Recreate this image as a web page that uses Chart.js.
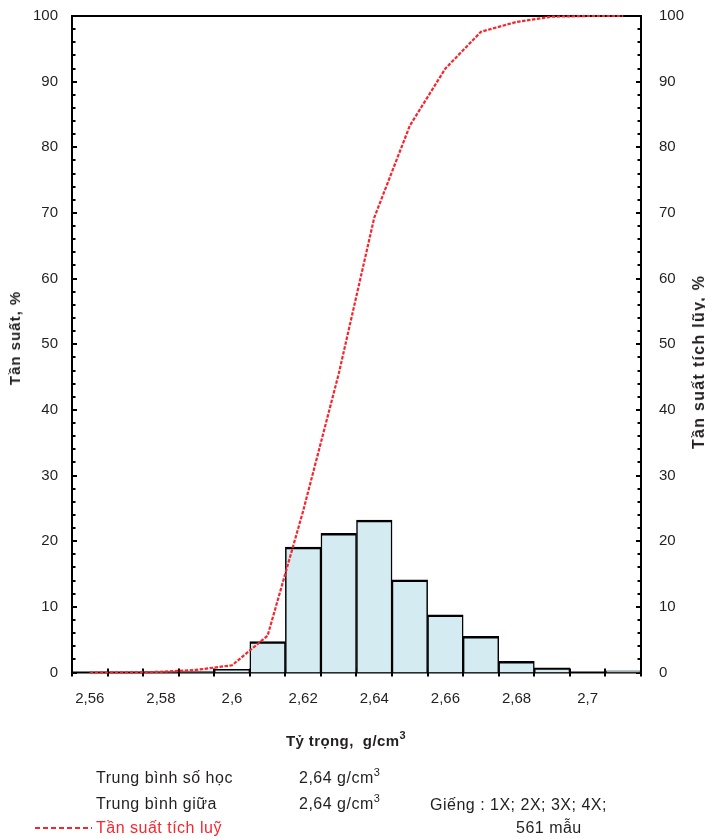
<!DOCTYPE html>
<html><head><meta charset="utf-8">
<script src="https://cdn.jsdelivr.net/npm/chart.js@4.4.1/dist/chart.umd.min.js"></script>
<style>
html,body{margin:0;padding:0;background:#fff;}
#wrap{position:relative;width:705px;height:839px;overflow:hidden;font-family:"Liberation Sans",Arial,sans-serif;color:#231f20;}
canvas{position:absolute;left:0;top:0;}
.t{position:absolute;white-space:nowrap;line-height:20px;height:20px;font-size:16px;letter-spacing:0.5px;}
.c{transform:translate(-50%,-50%);}
.rot{transform:translate(-50%,-50%) rotate(-90deg);font-weight:bold;}
sup{font-size:11px;vertical-align:7px;line-height:0;}
.dash{position:absolute;height:2px;background:repeating-linear-gradient(to right,#f8252d 0 5px,transparent 5px 8px);}
</style></head>
<body><div id="wrap">
<canvas id="c" width="705" height="839" style="width:705px;height:839px"></canvas>
<div class="t rot" style="left:15px;top:338px;font-size:15px;letter-spacing:1px;">Tần suất, %</div>
<div class="t rot" style="left:699px;top:362px;font-size:16px;letter-spacing:1.3px;">Tần suất tích lũy, %</div>
<div class="t c" style="left:346px;top:741px;font-size:15px;font-weight:bold;letter-spacing:0.4px;">Tỷ trọng,&nbsp; g/cm<sup>3</sup></div>
<div class="t" style="left:96px;top:768px;">Trung bình số học</div>
<div class="t" style="left:299px;top:768px;">2,64 g/cm<sup>3</sup></div>
<div class="t" style="left:96px;top:794px;">Trung bình giữa</div>
<div class="t" style="left:299px;top:794px;">2,64 g/cm<sup>3</sup></div>
<div class="t" style="left:430px;top:795px;">Giếng : 1X; 2X; 3X; 4X;</div>
<div class="dash" style="left:35px;top:827px;width:57px;"></div>
<div class="t" style="left:96px;top:818px;color:#f8252d;">Tần suất tích luỹ</div>
<div class="t" style="left:516px;top:818px;">561 mẫu</div>
</div>
<script>
// ---- data ----
const binCenters = [2.56, 2.57, 2.58, 2.59, 2.60, 2.61, 2.62, 2.63, 2.64, 2.65, 2.66, 2.67, 2.68, 2.69, 2.70, 2.71];
const frequency  = [0, 0, 0.1, 0.2, 0.5, 4.7, 19.1, 21.2, 23.2, 14.1, 8.8, 5.5, 1.7, 0.7, 0, 0.25];
const cumulative = [0, 0, 0.1, 0.4, 1.1, 5.6, 24.6, 45.5, 69.3, 83.3, 92.0, 97.6, 99.1, 99.9, 100, 100];
const binEdges   = [2.555, 2.565, 2.575, 2.585, 2.595, 2.605, 2.615, 2.625, 2.635, 2.645, 2.655, 2.665, 2.675, 2.685, 2.695, 2.705, 2.715];
const xTickValues = [2.56, 2.58, 2.60, 2.62, 2.64, 2.66, 2.68, 2.70];
const xTickLabels = ['2,56', '2,58', '2,6', '2,62', '2,64', '2,66', '2,68', '2,7'];
const yTickValues = [0, 10, 20, 30, 40, 50, 60, 70, 80, 90, 100];
const yTickLabels = ['0', '10', '20', '30', '40', '50', '60', '70', '80', '90', '100'];
const yMinorStep = 2;

const RED = '#f8252d';
const FONT = {family: '"Liberation Sans", Arial, sans-serif', size: 15};

const framePlugin = {
  id: 'frame',
  beforeDatasetsDraw(chart) {
    const {ctx, chartArea: a, scales} = chart;
    ctx.save();
    ctx.strokeStyle = '#000';
    ctx.lineWidth = 2;
    ctx.strokeRect(a.left, a.top, a.right - a.left, a.bottom - a.top);
    ctx.beginPath();
    for (let v = 0; v <= 100; v += yMinorStep) {
      const y = Math.round(scales.y.getPixelForValue(v));
      const len = (v % 10 === 0) ? 5 : 3.5;
      ctx.moveTo(a.left, y); ctx.lineTo(a.left + len, y);
      const y2 = Math.round(scales.y2.getPixelForValue(v));
      ctx.moveTo(a.right, y2); ctx.lineTo(a.right - len, y2);
    }
    binEdges.forEach(e => {
      const x = Math.round(scales.x.getPixelForValue(e));
      ctx.moveTo(x, a.bottom - 4); ctx.lineTo(x, a.bottom + 4);
    });
    ctx.stroke();
    ctx.restore();
  }
};

function fitY(width) {
  return s => { s.width = width; s.paddingTop = 0; s.paddingBottom = 0; };
}

new Chart(document.getElementById('c'), {
  data: {
    datasets: [
      {
        type: 'line',
        label: 'Tần suất tích luỹ',
        data: binCenters.map((x, i) => ({x, y: cumulative[i]})),
        yAxisID: 'y2',
        borderColor: RED,
        borderWidth: 2.2,
        borderDash: [3.5, 1.5],
        pointRadius: 0,
        tension: 0,
        clip: false,
        order: 0
      },
      {
        type: 'bar',
        label: 'Tần suất',
        data: binCenters.map((x, i) => ({x, y: frequency[i]})),
        yAxisID: 'y',
        backgroundColor: '#d4ebf2',
        borderColor: '#000',
        borderWidth: {top: 2.5, left: 1.5, right: 1.5, bottom: 0},
        borderSkipped: 'start',
        barPercentage: 1,
        categoryPercentage: 1,
        order: 1
      }
    ]
  },
  options: {
    responsive: false,
    animation: false,
    devicePixelRatio: 1,
    layout: {padding: {top: 16, bottom: 126.5, left: 0, right: 0}},
    plugins: {legend: {display: false}, tooltip: {enabled: false}},
    scales: {
      x: {
        type: 'linear',
        position: 'bottom',
        offset: false,
        min: binEdges[0],
        max: binEdges[binEdges.length - 1],
        afterBuildTicks: s => { s.ticks = xTickValues.map(v => ({value: v})); },
        afterFit: s => { s.height = 40; s.paddingLeft = 0; s.paddingRight = 0; },
        ticks: {
          autoSkip: false, maxRotation: 0, padding: 17, color: '#231f20', font: FONT,
          callback: (v, i) => xTickLabels[i]
        },
        grid: {display: false, drawTicks: false},
        border: {display: false}
      },
      y: {
        position: 'left',
        min: 0, max: 100,
        afterBuildTicks: s => { s.ticks = yTickValues.map(v => ({value: v})); },
        afterFit: fitY(72),
        ticks: {autoSkip: false, padding: 14, color: '#231f20', font: FONT,
          callback: (v, i) => yTickLabels[i]},
        grid: {display: false, drawTicks: false},
        border: {display: false}
      },
      y2: {
        position: 'right',
        min: 0, max: 100,
        afterBuildTicks: s => { s.ticks = yTickValues.map(v => ({value: v})); },
        afterFit: fitY(64),
        ticks: {autoSkip: false, padding: 18, color: '#231f20', font: FONT,
          callback: (v, i) => yTickLabels[i]},
        grid: {display: false, drawTicks: false},
        border: {display: false}
      }
    }
  },
  plugins: [framePlugin]
});
</script>
</body></html>
